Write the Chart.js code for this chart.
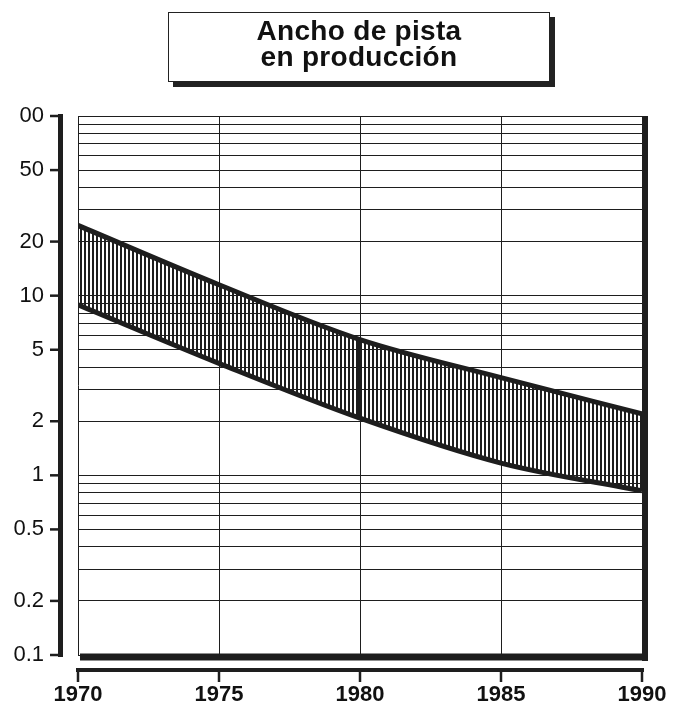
<!DOCTYPE html>
<html>
<head>
<meta charset="utf-8">
<script src="https://cdn.jsdelivr.net/npm/chart.js@4"></script>
<style>
  body { margin: 0; background: #fff; }
  #wrap { position: relative; width: 680px; height: 708px; }
  #graph { position: absolute; left: 0; top: 0; }
  #title {
    position: absolute; left: 168px; top: 12px; width: 382px; height: 70px;
    box-sizing: border-box; border: 1.5px solid #222; background: #fff;
    box-shadow: 5px 5px 0 #222;
    font-family: "Liberation Sans", Arial, sans-serif; font-weight: bold;
    font-size: 28px; line-height: 26px; text-align: center; color: #111;
    padding-top: 5px; letter-spacing: 0.3px;
  }
</style>
</head>
<body>
<div id="wrap">
  <canvas id="graph" width="680" height="708"></canvas>
  <div id="title">Ancho de pista<br>en producción</div>
</div>
<script>
// values
const years = [1970, 1975, 1980, 1985, 1990];
const upperWidth = [24.6, 11.5, 5.7, 3.5, 2.2];
const lowerWidth = [8.9, 4.2, 2.08, 1.17, 0.82];
const dividerYear = 1980;

const xTickLabels = ['1970', '1975', '1980', '1985', '1990'];
const yTickValues = [0.1, 0.2, 0.5, 1, 2, 5, 10, 20, 50, 100];
const yTickLabels = ['0.1', '0.2', '0.5', '1', '2', '5', '10', '20', '50', '00'];
const yGridValues = [0.1, 0.2, 0.3, 0.4, 0.5, 0.6, 0.7, 0.8, 0.9,
  1, 2, 3, 4, 5, 6, 7, 8, 9,
  10, 20, 30, 40, 50, 60, 70, 80, 90, 100];

const ink = '#1e1e1e';

// vertical hatching for the band
const tile = document.createElement('canvas');
tile.width = 4; tile.height = 4;
const tctx = tile.getContext('2d');
tctx.fillStyle = ink;
tctx.fillRect(0, 0, 2, 4);
const ctx = document.getElementById('graph').getContext('2d');
const hatch = ctx.createPattern(tile, 'repeat');

const divIdx = years.indexOf(dividerYear);

// thick frame pieces and the detached axis bars
const frame = {
  id: 'frame',
  afterDraw(chart) {
    const c = chart.ctx, a = chart.chartArea;
    const xs = chart.scales.x, ys = chart.scales.y;
    c.save();
    c.strokeStyle = ink;
    c.lineCap = 'butt';
    // thick right and bottom edges of the plot
    c.lineWidth = 6;
    c.beginPath(); c.moveTo(a.right + 3, a.top); c.lineTo(a.right + 3, a.bottom + 6); c.stroke();
    c.lineWidth = 7;
    c.beginPath(); c.moveTo(a.left + 2, a.bottom + 2); c.lineTo(a.right + 6, a.bottom + 2); c.stroke();
    // y bar with ticks
    c.lineWidth = 5;
    c.beginPath(); c.moveTo(a.left - 17.5, a.top - 2); c.lineTo(a.left - 17.5, a.bottom + 2); c.stroke();
    c.lineWidth = 2.5;
    yTickValues.forEach(v => {
      const py = ys.getPixelForValue(v);
      c.beginPath(); c.moveTo(a.left - 28, py); c.lineTo(a.left - 17, py); c.stroke();
    });
    // x bar with ticks
    c.lineWidth = 4;
    c.beginPath(); c.moveTo(a.left - 2, a.bottom + 15); c.lineTo(a.right + 2, a.bottom + 15); c.stroke();
    c.lineWidth = 2.5;
    years.forEach(v => {
      const px = xs.getPixelForValue(v);
      c.beginPath(); c.moveTo(px, a.bottom + 15); c.lineTo(px, a.bottom + 27); c.stroke();
    });
    c.restore();
  }
};

new Chart(ctx, {
  type: 'line',
  data: {
    datasets: [{
      data: years.map((y, i) => ({ x: y, y: upperWidth[i] })),
      borderColor: ink,
      borderWidth: 5,
      backgroundColor: hatch,
      fill: '+1',
      pointRadius: 0,
      cubicInterpolationMode: 'monotone'
    }, {
      data: years.map((y, i) => ({ x: y, y: lowerWidth[i] })),
      borderColor: ink,
      borderWidth: 5,
      fill: false,
      pointRadius: 0,
      cubicInterpolationMode: 'monotone'
    }, {
      data: [{ x: dividerYear, y: upperWidth[divIdx] }, { x: dividerYear, y: lowerWidth[divIdx] }],
      borderColor: ink,
      borderWidth: 4,
      fill: false,
      pointRadius: 0
    }]
  },
  options: {
    responsive: false,
    animation: false,
    devicePixelRatio: 1,
    layout: { padding: { left: 0, top: 116, right: 38, bottom: 0 } },
    scales: {
      x: {
        type: 'linear',
        min: 1970,
        max: 1990,
        afterFit: s => { s.height = 53; s.paddingLeft = 0; s.paddingRight = 0; },
        afterBuildTicks: s => { s.ticks = years.map(v => ({ value: v })); },
        grid: { color: ink, lineWidth: 1, drawTicks: false },
        border: { display: false },
        ticks: {
          padding: 27,
          maxRotation: 0,
          color: '#111',
          font: { family: 'Liberation Sans, Arial, sans-serif', size: 22, weight: 'bold' },
          callback: v => xTickLabels[years.indexOf(v)] ?? ''
        }
      },
      y: {
        type: 'logarithmic',
        min: 0.1,
        max: 100,
        afterFit: s => { s.width = 78; s.paddingTop = 0; s.paddingBottom = 0; },
        afterBuildTicks: s => { s.ticks = yGridValues.map(v => ({ value: v })); },
        grid: { color: ink, lineWidth: 1, drawTicks: false },
        border: { display: false },
        ticks: {
          padding: 34,
          autoSkip: false,
          color: '#111',
          font: { family: 'Liberation Sans, Arial, sans-serif', size: 22 },
          callback: v => {
            const i = yTickValues.findIndex(t => Math.abs(t - v) < 1e-9);
            return i >= 0 ? yTickLabels[i] : '';
          }
        }
      }
    },
    plugins: {
      legend: { display: false },
      tooltip: { enabled: false }
    }
  },
  plugins: [frame]
});
</script>
</body>
</html>
